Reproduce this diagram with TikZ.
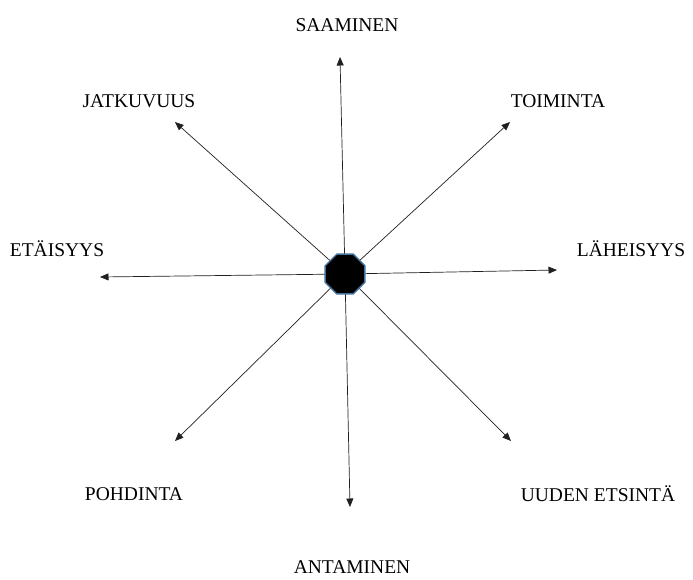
\documentclass[tikz,border=0pt]{standalone}
\usepackage{fontspec}
\setmainfont{Liberation Serif}
\usetikzlibrary{shapes.geometric,arrows.meta}
\definecolor{edgeblue}{HTML}{41719C}
\definecolor{linegray}{HTML}{202020}
\begin{document}
\begin{tikzpicture}[x=1pt,y=-1pt,
  lbl/.style={font=\fontsize{19.5}{22}\selectfont, inner sep=0pt, anchor=center},
  arr/.style={draw=linegray, line width=0.7pt, -{Triangle[length=8.5pt,width=7pt]}},
  hub/.style={regular polygon, regular polygon sides=8, fill=black, draw=edgeblue, line width=1.3pt, inner sep=0pt, minimum size=43pt}]
\useasboundingbox (0,0) rectangle (693,579);
% end points
\coordinate (eN) at (340,57);
\coordinate (eS) at (350,507);
\coordinate (eW) at (100,277);
\coordinate (eE) at (557,270);
\coordinate (eNW) at (175,122);
\coordinate (eNE) at (510,122);
\coordinate (eSW) at (175,441);
\coordinate (eSE) at (511,441);
\coordinate (c0) at (345,274);
% arrows
\foreach \t in {eN,eS,eW,eE,eNW,eNE,eSW,eSE}{\draw[arr] (c0) -- (\t);}
\node[hub] (c) at (c0) {};
% labels
\node[lbl] (tN) at (347,25) {SAAMINEN};
\node[lbl] (tNW) at (139,101) {JATKUVUUS};
\node[lbl] (tNE) at (558,101) {TOIMINTA};
\node[lbl] (tW) at (57,249) {ETÄISYYS};
\node[lbl] (tE) at (631,249) {LÄHEISYYS};
\node[lbl] (tSW) at (134,494) {POHDINTA};
\node[lbl] (tSE) at (598,494) {UUDEN ETSINTÄ};
\node[lbl] (tS) at (352,567) {ANTAMINEN};
\end{tikzpicture}
\end{document}
